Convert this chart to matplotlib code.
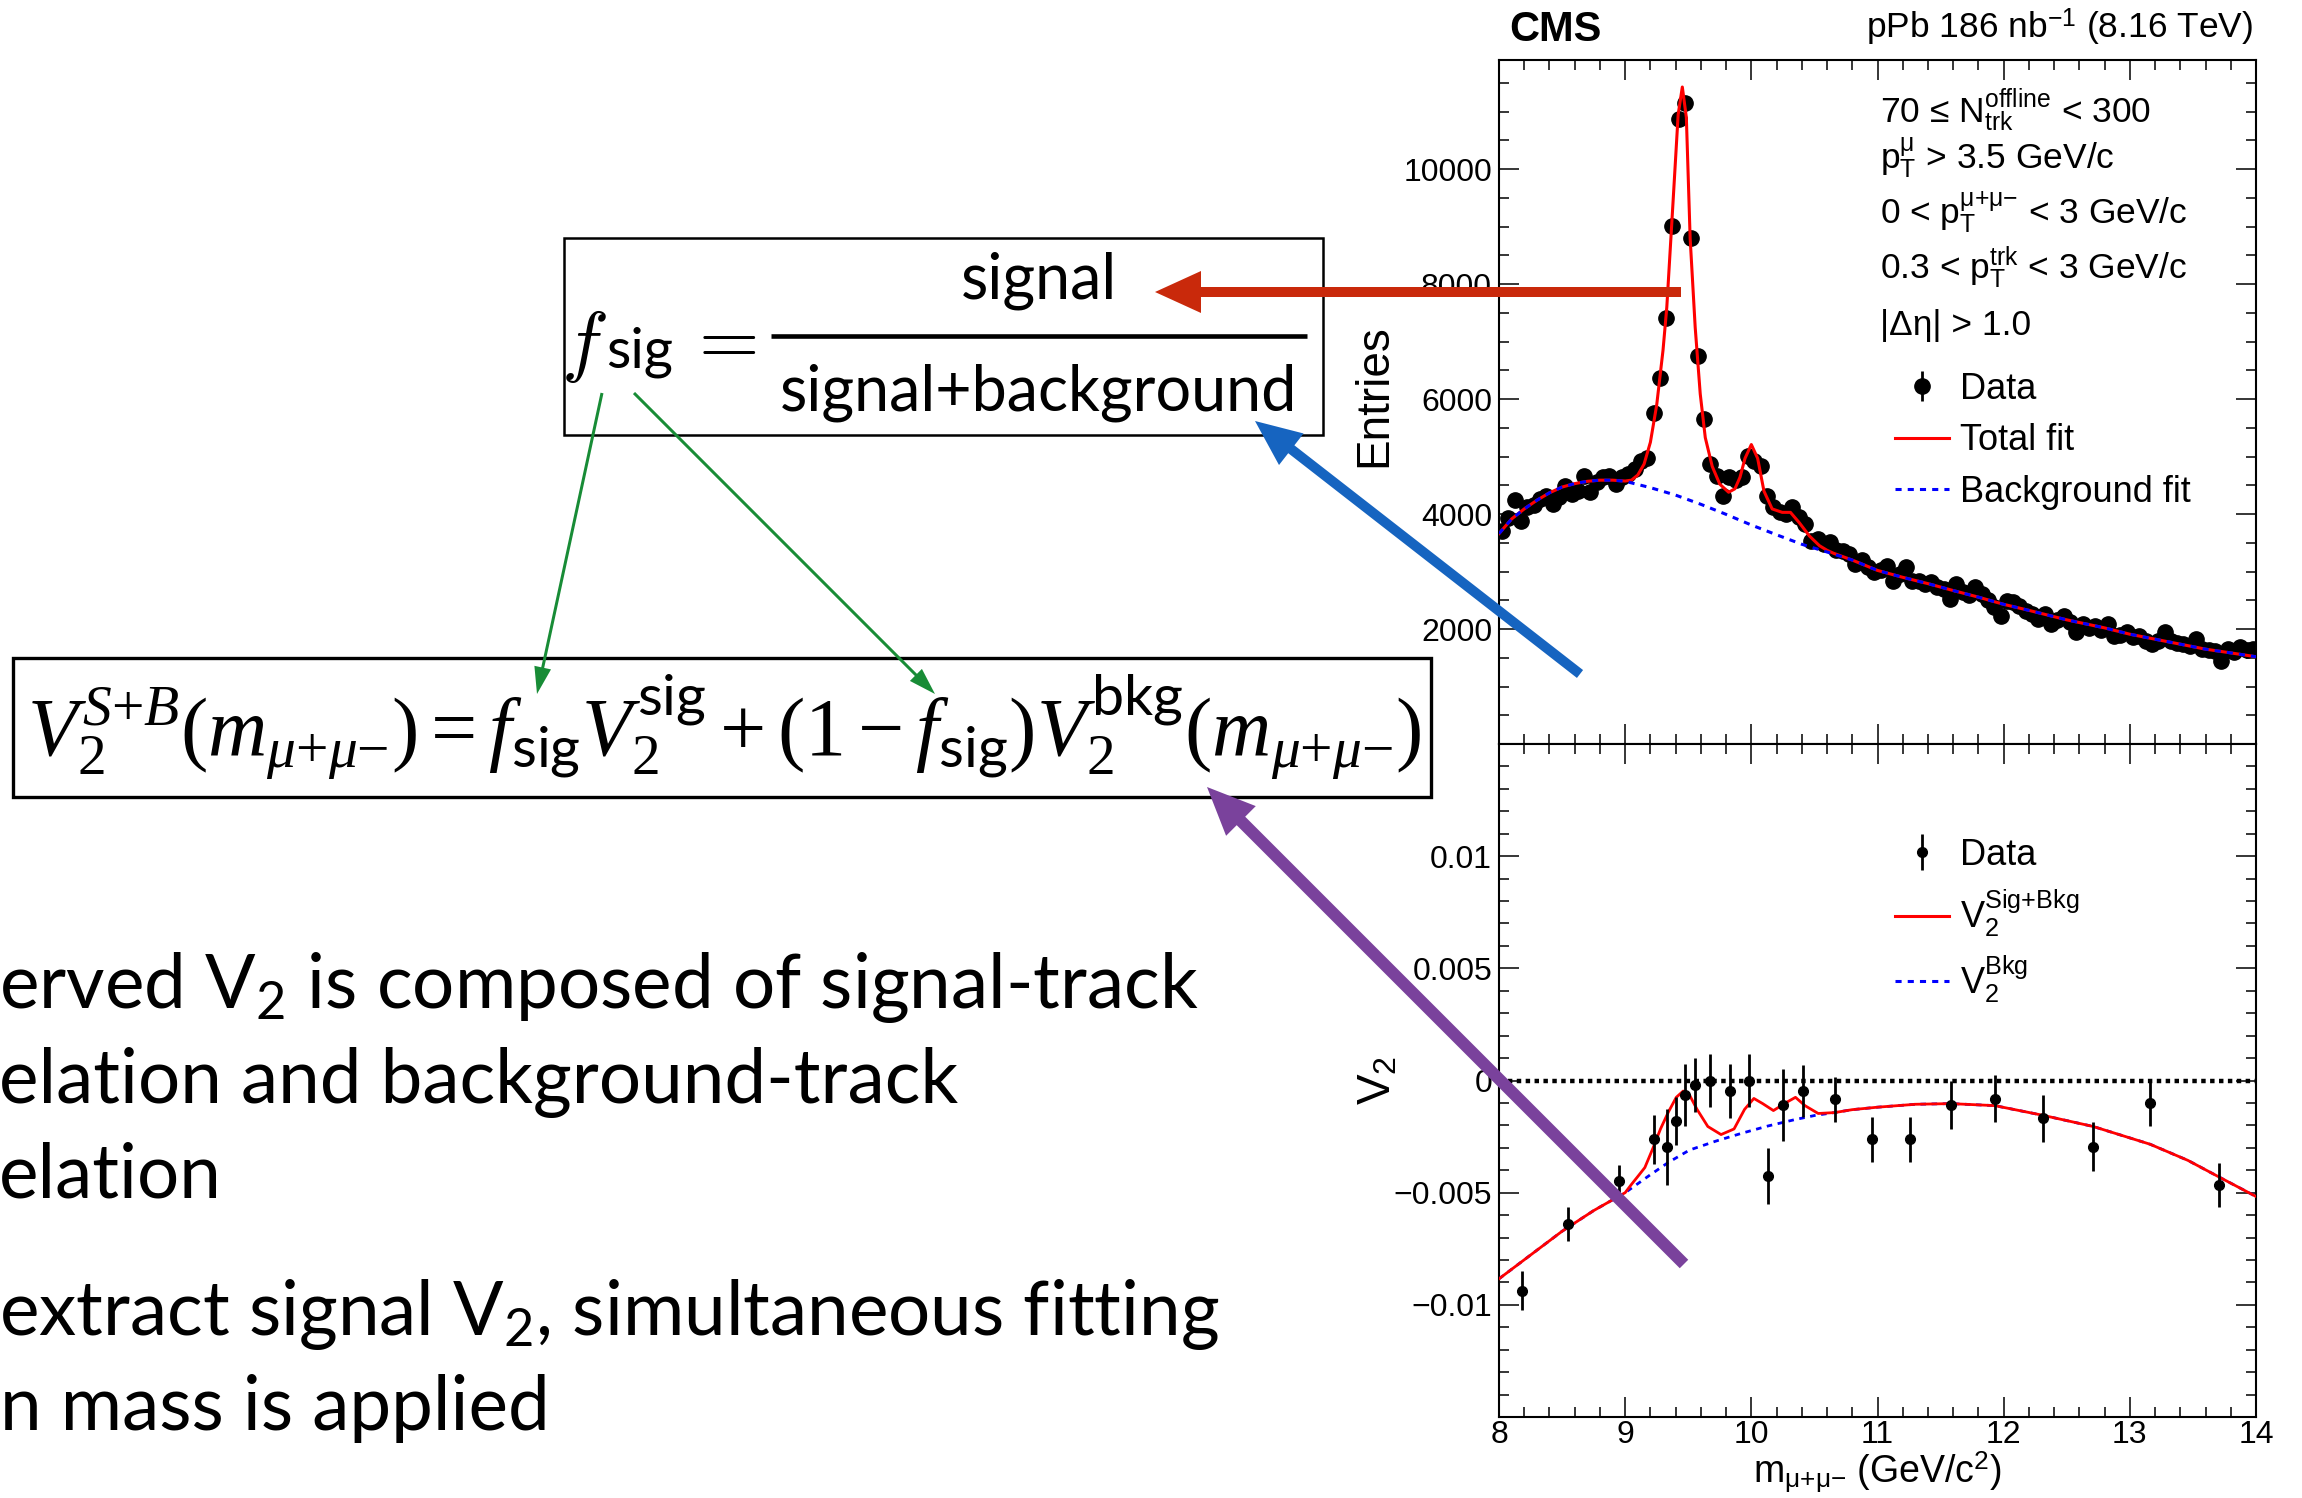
import numpy as np
import matplotlib
matplotlib.use('Agg')
import matplotlib.pyplot as plt
from matplotlib.lines import Line2D
from matplotlib.patches import FancyArrow, Rectangle
from matplotlib.legend_handler import HandlerTuple
from matplotlib.ticker import MultipleLocator, FixedLocator, FuncFormatter, NullFormatter

plt.rcParams['font.family'] = 'Liberation Sans'
# custom math set is only used by the V2 formula; ROOT labels go through \mathregular
plt.rcParams['mathtext.fontset'] = 'custom'
plt.rcParams['mathtext.rm'] = 'Liberation Serif'
plt.rcParams['mathtext.it'] = 'Liberation Serif:italic'
plt.rcParams['mathtext.bf'] = 'Liberation Serif:bold'
plt.rcParams['mathtext.sf'] = 'Lato'

W, H = 2302, 1498

## dimuon mass spectrum, 0.05 GeV bins from 8 to 14
mass_edges = np.linspace(8.0, 14.0, 121)
mass_centers = 0.5 * (mass_edges[1:] + mass_edges[:-1])
entries = [3710, 3930, 4243, 3883, 4127, 4150, 4260, 4318, 4184, 4289,
           4492, 4348, 4400, 4666, 4376, 4560, 4637, 4666, 4522, 4637,
           4696, 4783, 4927, 4974, 5757, 6376, 7409, 9014, 10870, 11148,
           8810, 6753, 5652, 4880, 4666, 4318, 4637, 4600, 4650, 5014,
           4930, 4840, 4318, 4115, 4028, 4000, 4115, 3941, 3826, 3536,
           3560, 3480, 3506, 3380, 3350, 3304, 3130, 3200, 3072, 2984,
           3020, 3101, 2840, 2960, 3072, 2840, 2830, 2783, 2810, 2740,
           2696, 2522, 2780, 2640, 2590, 2723, 2614, 2500, 2376, 2231,
           2492, 2463, 2405, 2318, 2260, 2174, 2261, 2087, 2150, 2231,
           2120, 1941, 2087, 2020, 2057, 1990, 2087, 1883, 1900, 1941,
           1870, 1883, 1797, 1739, 1800, 1941, 1797, 1760, 1739, 1700,
           1826, 1652, 1640, 1623, 1449, 1652, 1600, 1681, 1640, 1652]

# total fit (Upsilon states + background)
fit_mass = [8.0, 8.1, 8.2, 8.3, 8.4, 8.5, 8.6, 8.7, 8.8, 8.9, 9.0, 9.05, 9.1,
            9.15, 9.2, 9.25, 9.3, 9.33, 9.38, 9.42, 9.453, 9.485, 9.515, 9.555,
            9.595, 9.635, 9.69, 9.75, 9.82, 9.87, 9.91, 9.95, 10.0, 10.05, 10.1,
            10.165, 10.245, 10.31, 10.38, 10.46, 10.54, 10.6, 10.65, 10.8, 11.0,
            11.2, 11.4, 11.6, 11.8, 12.0, 12.2, 12.5, 12.8, 13.0, 13.3, 13.6,
            13.8, 14.0]
total_fit = [3660, 3915, 4090, 4240, 4370, 4470, 4530, 4570, 4590, 4590, 4575,
             4590, 4680, 4870, 5250, 5900, 6850, 7600, 9450, 10950, 11430,
             10900, 8800, 7250, 6090, 5330, 4830, 4520, 4380, 4440, 4640, 4970,
             5210, 4970, 4400, 4090, 4030, 4030, 3850, 3620, 3450, 3370, 3320,
             3200, 3020, 2900, 2790, 2670, 2555, 2430, 2325, 2160, 2020, 1910,
             1780, 1650, 1585, 1518]
bkg_mass = [8.0, 8.1, 8.2, 8.3, 8.4, 8.5, 8.6, 8.7, 8.8, 8.9, 9.0, 9.2, 9.4,
            9.6, 9.8, 10.0, 10.2, 10.4, 10.6, 10.8, 11.0, 11.2, 11.4, 11.6,
            11.8, 12.0, 12.2, 12.5, 12.8, 13.0, 13.3, 13.6, 13.8, 14.0]
bkg_fit = [3660, 3915, 4090, 4240, 4370, 4470, 4530, 4570, 4590, 4590, 4570,
           4460, 4330, 4170, 3995, 3810, 3640, 3475, 3340, 3200, 3020, 2900,
           2790, 2670, 2555, 2430, 2325, 2160, 2020, 1910, 1780, 1650, 1585,
           1518]

## V2 vs mass
v2_mass = [8.18, 8.55, 8.95, 9.23, 9.33, 9.40, 9.476, 9.55, 9.676, 9.83, 9.98,
           10.13, 10.25, 10.41, 10.66, 10.96, 11.26, 11.58, 11.93, 12.31, 12.71,
           13.16, 13.71]
v2_vals = [-0.00937, -0.0064, -0.00446, -0.00263, -0.00297, -0.00181, -0.00065,
           -0.0002, 0.0, -0.00047, 0.0, -0.00427, -0.00108, -0.00047, -0.00084,
           -0.00263, -0.00263, -0.00108, -0.00082, -0.00168, -0.00295, -0.00101,
           -0.00466]
v2_errs = [0.00086, 0.00075, 0.0007, 0.0011, 0.0017, 0.00108, 0.00137, 0.0012,
           0.0012, 0.0012, 0.0012, 0.00125, 0.0016, 0.00115, 0.001, 0.001, 0.001,
           0.00108, 0.00105, 0.00105, 0.00108, 0.00102, 0.001]
v2_fit_mass = [8.0, 8.25, 8.5, 8.75, 9.0, 9.05, 9.1, 9.156, 9.22, 9.28, 9.343,
               9.405, 9.46, 9.51, 9.57, 9.655, 9.76, 9.863, 9.946, 10.02, 10.09,
               10.175, 10.28, 10.35, 10.425, 10.53, 10.66, 10.8, 11.0, 11.3,
               11.58, 11.93, 12.31, 12.71, 13.16, 13.46, 13.71, 14.0]
v2_sb = [-0.00884, -0.00778, -0.00672, -0.00580, -0.00500, -0.00463, -0.00428,
         -0.00388, -0.00302, -0.00216, -0.00140, -0.00075, -0.00047, -0.00065,
         -0.00129, -0.00205, -0.00241, -0.00216, -0.00129, -0.00080, -0.00103,
         -0.00134, -0.00097, -0.00075, -0.00112, -0.00147, -0.00143, -0.00130,
         -0.00119, -0.00106, -0.00103, -0.00112, -0.00155, -0.00205, -0.00284,
         -0.00356, -0.00431, -0.00517]
v2_bkg_mass = [8.0, 8.25, 8.5, 8.75, 9.0, 9.2, 9.343, 9.51, 9.72, 9.925, 10.13,
               10.34, 10.51, 10.66, 10.8, 11.0, 11.3, 11.58, 11.93, 12.31, 12.71,
               13.16, 13.46, 13.71, 14.0]
v2_bkg = [-0.00884, -0.00778, -0.00672, -0.00580, -0.00500, -0.00420, -0.00365,
          -0.00310, -0.00270, -0.00235, -0.00203, -0.00175, -0.00155, -0.00143,
          -0.00130, -0.00119, -0.00106, -0.00103, -0.00112, -0.00155, -0.00205,
          -0.00284, -0.00356, -0.00431, -0.00517]

fig = plt.figure(figsize=(W / 100, H / 100), dpi=100)
fig.patch.set_facecolor('white')

def fx(px):
    return px / W

def fy(py):
    return 1 - py / H

# panel frames in pixels
left, right = 1499, 2256
ax1 = fig.add_axes([fx(left), fy(744), fx(right - left), (744 - 60) / H])
ax2 = fig.add_axes([fx(left), fy(1417), fx(right - left), (1417 - 744) / H])

def root_style(ax):
    ax.tick_params(which='both', direction='in', top=True, right=True,
                   labelsize=23, pad=5)
    ax.tick_params(which='major', length=14.5, width=1.1)
    ax.tick_params(which='minor', length=7.2, width=1.1)
    for s in ax.spines.values():
        s.set_linewidth(1.5)
    ax.xaxis.set_major_locator(MultipleLocator(1))
    ax.xaxis.set_minor_locator(MultipleLocator(0.2))
    ax.set_xlim(8, 14)

# ---- mass spectrum
root_style(ax1)
ax1.set_ylim(0, 11900)
ax1.yaxis.set_major_locator(FixedLocator([2000, 4000, 6000, 8000, 10000]))
ax1.yaxis.set_minor_locator(MultipleLocator(500))
ax1.xaxis.set_major_formatter(NullFormatter())
ax1.plot(mass_centers, entries, 'o', color='black', ms=11, zorder=3)
ax1.plot(fit_mass, total_fit, '-', color='red', lw=2.2, zorder=4)
ax1.plot(bkg_mass, bkg_fit, color='blue', lw=2.2, dashes=(2, 2), zorder=5)
ax1.set_ylabel('Entries', fontsize=33)
ax1.yaxis.set_label_coords(-0.136, 0.51)

cuts = [r'70 ≤ N$_{\mathregular{trk}}^{\mathregular{offline}}$ < 300',
        r'p$_{\mathregular{T}}^{\mathregular{μ}}$ > 3.5 GeV/c',
        r'0 < p$_{\mathregular{T}}^{\mathregular{μ{+}μ{-}}}$ < 3 GeV/c',
        r'0.3 < p$_{\mathregular{T}}^{\mathregular{trk}}$ < 3 GeV/c',
        '|Δη| > 1.0']
cut_base = [123, 169, 225, 280, 335]
for txt, yb in zip(cuts, cut_base):
    fig.text(fx(1880), fy(yb), txt, fontsize=25.5, va='baseline', ha='left')

data_handle = (Line2D([], [], marker='|', ms=22, mew=2, color='black', ls='none'),
               Line2D([], [], marker='o', ms=11, color='black', ls='none'))
leg1 = ax1.legend([data_handle,
                   Line2D([], [], color='red', lw=2.2),
                   Line2D([], [], color='blue', lw=2.2, dashes=(2, 2))],
                  ['Data', 'Total fit', 'Background fit'],
                  handler_map={tuple: HandlerTuple(ndivide=1)},
                  loc='upper left', bbox_to_anchor=(fx(1895), fy(372)),
                  bbox_transform=fig.transFigure, frameon=False, fontsize=26,
                  handlelength=1.5, handletextpad=0.3, labelspacing=0.45,
                  borderpad=0, borderaxespad=0)

fig.text(fx(1509), fy(41), 'CMS', fontsize=30, fontweight='bold', va='baseline')
fig.text(fx(2253), fy(39), r'pPb 186 nb$^{\mathregular{-1}}$ (8.16 TeV)', fontsize=25.5,
         va='baseline', ha='right')

# ---- V2 vs mass
root_style(ax2)
ax2.tick_params(axis='x', pad=2)
ax2.set_ylim(-0.015, 0.015)
ax2.yaxis.set_major_locator(FixedLocator([-0.01, -0.005, 0, 0.005, 0.01]))
ax2.yaxis.set_minor_locator(MultipleLocator(0.001))
ax2.yaxis.set_major_formatter(FuncFormatter(lambda v, p: ('%g' % round(v, 4)).replace('-', '\u2212')))
ax2.axhline(0, color='black', lw=3.2, ls=(0, (1, 1)), zorder=2)
ax2.plot(v2_bkg_mass, v2_bkg, color='blue', lw=2.0, dashes=(2, 2), zorder=3)
ax2.plot(v2_fit_mass, v2_sb, '-', color='red', lw=2.0, zorder=4)
eb = ax2.errorbar(v2_mass, v2_vals, yerr=v2_errs, fmt='o', color='black', ms=7,
                  elinewidth=2, capsize=0, zorder=5)
ax2.set_ylabel(r'V$_{\mathregular{2}}$', fontsize=33)
ax2.yaxis.set_label_coords(-0.13, 0.5)
ax2.set_xlabel(r'm$_{\mathregular{μ{+}μ{-}}}$ (GeV/c$^{\mathregular{2}}$)', fontsize=27,
               va='bottom')
# sit the title on the bottom edge of the canvas (axes bottom is 81 px up)
ax2.xaxis.set_label_coords(0.5, (3 - (H - 1417)) / (1417 - 744))

leg2 = ax2.legend([eb,
                   Line2D([], [], color='red', lw=2.2),
                   Line2D([], [], color='blue', lw=2.2, dashes=(2, 2))],
                  ['Data', r'V$_{\mathregular{2}}^{\mathregular{Sig{+}Bkg}}$',
                   r'V$_{\mathregular{2}}^{\mathregular{Bkg}}$'],
                  loc='upper left', bbox_to_anchor=(fx(1895), fy(838)),
                  bbox_transform=fig.transFigure, frameon=False, fontsize=26,
                  handlelength=1.5, handletextpad=0.3, labelspacing=0.4,
                  borderpad=0, borderaxespad=0)

# ---- overlay in pixel coordinates for the formulas, text and arrows
ov = fig.add_axes([0, 0, 1, 1], zorder=10)
ov.set_xlim(0, W)
ov.set_ylim(H, 0)
ov.set_axis_off()

renderer = fig.canvas.get_renderer()

def fit_width(t, width):
    for _ in range(3):
        w = t.get_window_extent(renderer).width
        t.set_fontsize(t.get_fontsize() * width / w)

slide_font = 'Lato'

# f_sig box
ov.add_patch(Rectangle((564, 238), 1323 - 564, 435 - 238, fill=False, lw=1.8,
                       edgecolor='black'))
f_txt = ov.text(561, 367, r'$f$', math_fontfamily='cm', fontsize=57, va='baseline')
f_right = f_txt.get_window_extent(renderer).x1
t = ov.text(f_right - 1, 367, 'sig', family=slide_font, fontsize=46, va='baseline')
fit_width(t, 67)
ov.text(721, 341, r'$=$', math_fontfamily='cm', fontsize=56, ha='center', va='center')
ov.plot([771, 1307], [336, 336], color='black', lw=3.3, solid_capstyle='butt')
t_den = ov.text(1039, 411, 'signal+background', family=slide_font, fontsize=46,
                ha='center', va='baseline')
fit_width(t_den, 518)
ov.text(1039, 298, 'signal', family=slide_font, fontsize=t_den.get_fontsize(),
        ha='center', va='baseline')

# V2 decomposition box
ov.add_patch(Rectangle((13, 658), 1431 - 13, 797 - 658, fill=False, lw=2.4,
                       edgecolor='black'))
eq = ov.text(724, 756,
             r'$V_2^{S{+}B}(m_{\mu{+}\mu{-}}) = f_{\mathsf{sig}}V_2^{\mathsf{sig}}'
             r' + (1 - f_{\mathsf{sig}})V_2^{\mathsf{bkg}}(m_{\mu{+}\mu{-}})$',
             math_fontfamily='custom', fontsize=50, ha='center', va='baseline')
fit_width(eq, 1395)

# bullet text
lines = [(-1, 1008, r'erved V$\mathregular{_2}$ is composed of signal-track'),
         (-1, 1103, 'elation and background-track'),
         (-1, 1198, 'elation'),
         (-1, 1335, r'extract signal V$\mathregular{_2}$, simultaneous fitting'),
         (0, 1430, 'n mass is applied')]
t0 = ov.text(lines[0][0], lines[0][1], lines[0][2], family=slide_font, fontsize=56,
             va='baseline')
fit_width(t0, 1200)
for x0, yb, txt in lines[1:]:
    ov.text(x0, yb, txt, family=slide_font, fontsize=t0.get_fontsize(), va='baseline')

# arrows
def arrow(x0, y0, x1, y1, color, width, hw, hl):
    ov.add_patch(FancyArrow(x0, y0, x1 - x0, y1 - y0, width=width, head_width=hw,
                            head_length=hl, length_includes_head=True,
                            color=color, lw=0))

arrow(1681, 292, 1155, 292, '#c9290b', 10, 42, 46)
arrow(1580, 674, 1255, 421, '#1664c0', 10, 40, 46)
arrow(1684, 1264, 1207, 787, '#7a429c', 12, 42, 48)
arrow(602, 393, 537, 694, '#188c36', 3, 17, 27)
arrow(634, 393, 935, 694, '#188c36', 3, 17, 27)

fig.savefig('out.png', dpi=100)
